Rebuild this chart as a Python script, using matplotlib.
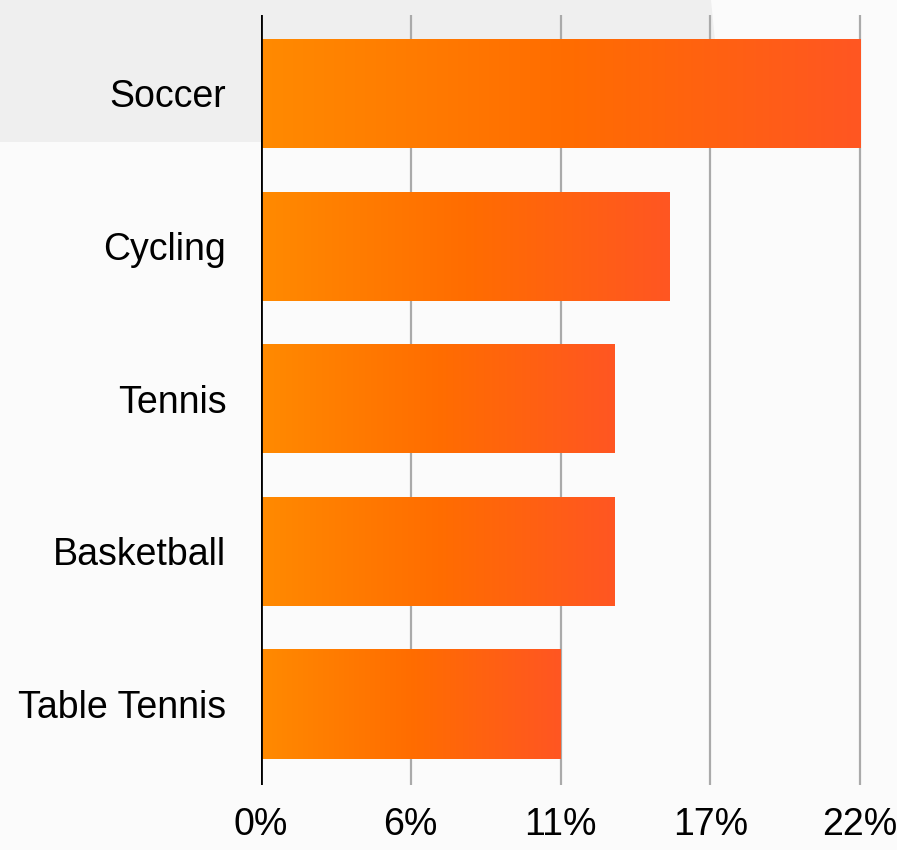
import numpy as np
import matplotlib
matplotlib.use("Agg")
import matplotlib.pyplot as plt
from matplotlib.colors import LinearSegmentedColormap
from matplotlib.patches import Polygon

sports = ["Soccer", "Cycling", "Tennis", "Basketball", "Table Tennis"]
shares = [22, 15, 13, 13, 11]
tick_values = [0, 5.5, 11, 16.5, 22]
tick_labels = ["0%", "6%", "11%", "17%", "22%"]

W, H = 897, 850
fig = plt.figure(figsize=(W / 100, H / 100), dpi=100)
fig.patch.set_facecolor("#fbfbfb")

# highlight band behind the first category row
band = Polygon([(0, H), (711, H), (725, H - 142), (0, H - 142)],
               closed=True, transform=None, facecolor="#efefef",
               edgecolor="none", zorder=-5)
fig.patches.append(band)

ax = fig.add_axes([261 / W, 65 / H, (W - 261) / W, 770 / H])
ax.set_facecolor("none")
ax.set_zorder(1)

grad = LinearSegmentedColormap.from_list(
    "bar_grad", [(0, "#ff8a00"), (0.5, "#ff6d00"), (1, "#ff5622")])

ypos = np.arange(len(sports))
bar_h = 0.715
bars = ax.barh(ypos, shares, height=bar_h, color="none", edgecolor="none", zorder=3)
row = np.linspace(0, 1, 256).reshape(1, -1)
for rect, val, y in zip(bars, shares, ypos):
    im = ax.imshow(row, cmap=grad, aspect="auto",
                   extent=[0, val, y + bar_h / 2, y - bar_h / 2],
                   zorder=3, interpolation="bilinear")
    im.set_clip_path(rect)

ax.set_xlim(0, 22 * 636 / 599)
ax.set_ylim(4.531, -0.514)

for t in tick_values[1:]:
    ax.axvline(t, color="#aaaaaa", lw=1.6, zorder=1)
ax.axvline(0, color="black", lw=2.0, zorder=4)

for s in ax.spines.values():
    s.set_visible(False)

ax.set_yticks(ypos)
ax.set_yticklabels(sports, fontsize=27, family="Liberation Sans")
ax.set_xticks(tick_values)
ax.set_xticklabels(tick_labels, fontsize=27, family="Liberation Sans")
ax.tick_params(axis="y", length=0, pad=25)
ax.tick_params(axis="x", length=0, pad=16)

fig.savefig("out.png", dpi=100, facecolor=fig.get_facecolor())
